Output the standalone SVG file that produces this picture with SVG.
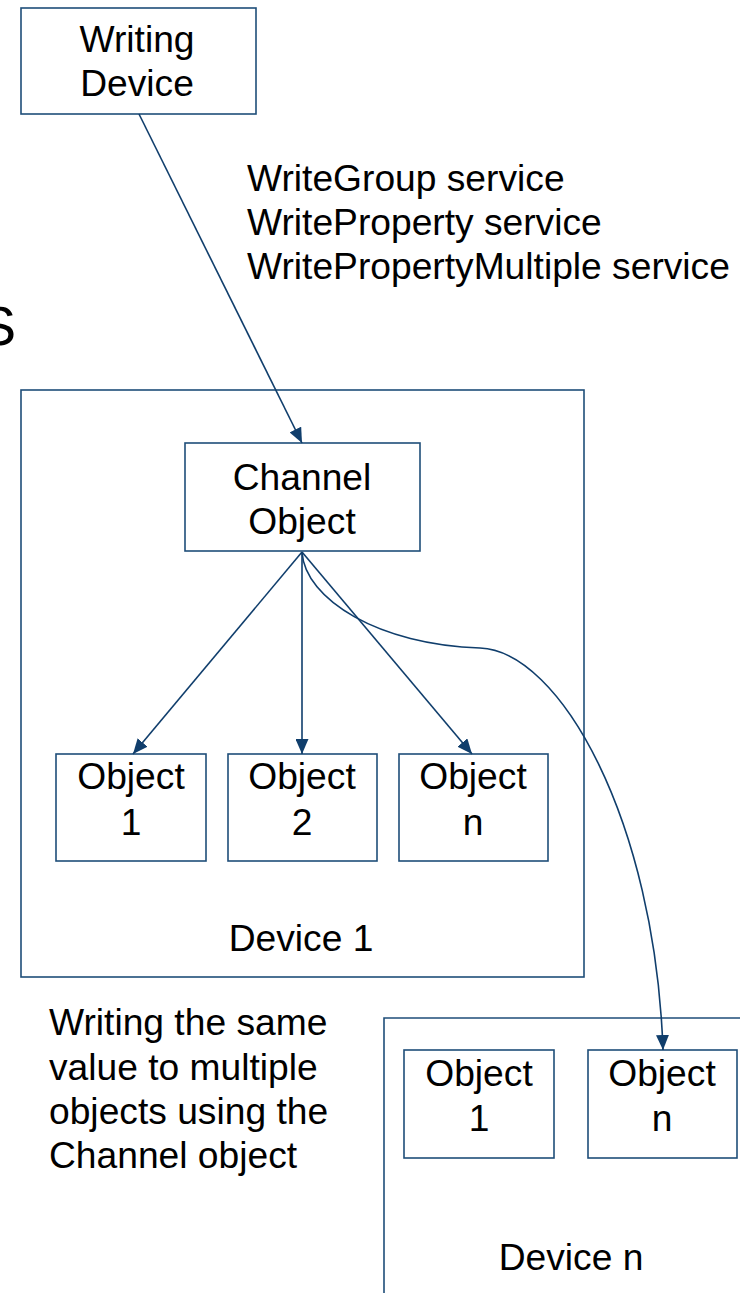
<svg xmlns="http://www.w3.org/2000/svg" width="740" height="1293" viewBox="0 0 740 1293">
<style>
.box{fill:#fff;stroke:#1f4e79;stroke-width:1.6}
.big{fill:none;stroke:#1f4e79;stroke-width:1.6}
.t{font-family:"Liberation Sans",Arial,sans-serif;font-size:37.2px;fill:#000}
.c{text-anchor:middle}
.con{fill:none;stroke:#103e6c;stroke-width:1.6}
</style>
<defs>
<marker id="ah" viewBox="0 0 15 13" refX="15" refY="6.5" markerWidth="15" markerHeight="13" markerUnits="userSpaceOnUse" orient="auto">
<path d="M0,0 L15,6.5 L0,13 z" fill="#103e6c"/>
</marker>
</defs>
<text class="t" x="16" y="345" text-anchor="end" style="font-size:56px">S</text>
<g id="device1">
<rect class="big" x="21" y="390" width="563" height="587"/>
<text class="t c" x="301" y="951">Device 1</text>
</g>
<g id="devicen">
<path class="big" d="M384,1293 L384,1018 L742,1018"/>
<text class="t c" x="571" y="1270">Device n</text>
</g>
<g id="writing">
<rect class="box" x="21" y="8" width="235" height="106"/>
<text class="t c" x="137" y="52">Writing</text>
<text class="t c" x="137" y="96">Device</text>
</g>
<g id="channel">
<rect class="box" x="185" y="443" width="235" height="108"/>
<text class="t c" x="302" y="490">Channel</text>
<text class="t c" x="302" y="534">Object</text>
</g>
<g id="obj1">
<rect class="box" x="56" y="754" width="150" height="107"/>
<text class="t c" x="131" y="789">Object</text>
<text class="t c" x="131" y="835">1</text>
</g>
<g id="obj2">
<rect class="box" x="228" y="754" width="149" height="107"/>
<text class="t c" x="302" y="789">Object</text>
<text class="t c" x="302" y="835">2</text>
</g>
<g id="objn">
<rect class="box" x="399" y="754" width="149" height="107"/>
<text class="t c" x="473" y="789">Object</text>
<text class="t c" x="473" y="835">n</text>
</g>
<g id="dn-obj1">
<rect class="box" x="404" y="1050" width="150" height="108"/>
<text class="t c" x="479" y="1086">Object</text>
<text class="t c" x="479" y="1131">1</text>
</g>
<g id="dn-objn">
<rect class="box" x="588" y="1050" width="149" height="108"/>
<text class="t c" x="662" y="1086">Object</text>
<text class="t c" x="662" y="1131">n</text>
</g>
<g id="labels">
<text class="t" x="247" y="191">WriteGroup service</text>
<text class="t" x="247" y="235">WriteProperty service</text>
<text class="t" x="247" y="279">WritePropertyMultiple service</text>
<text class="t" x="49" y="1035">Writing the same</text>
<text class="t" x="49" y="1080">value to multiple</text>
<text class="t" x="49" y="1124">objects using the</text>
<text class="t" x="49" y="1168">Channel object</text>
</g>
<g id="connectors">
<line class="con" x1="139" y1="114" x2="302" y2="443" marker-end="url(#ah)"/>
<line class="con" x1="302" y1="552" x2="133" y2="754" marker-end="url(#ah)"/>
<line class="con" x1="302" y1="552" x2="302" y2="754" marker-end="url(#ah)"/>
<line class="con" x1="302" y1="552" x2="472" y2="754" marker-end="url(#ah)"/>
<path class="con" d="M302,552 C305,600 380,645 480,648 C560,651 655,820 663,1050" marker-end="url(#ah)"/>
</g>
</svg>
